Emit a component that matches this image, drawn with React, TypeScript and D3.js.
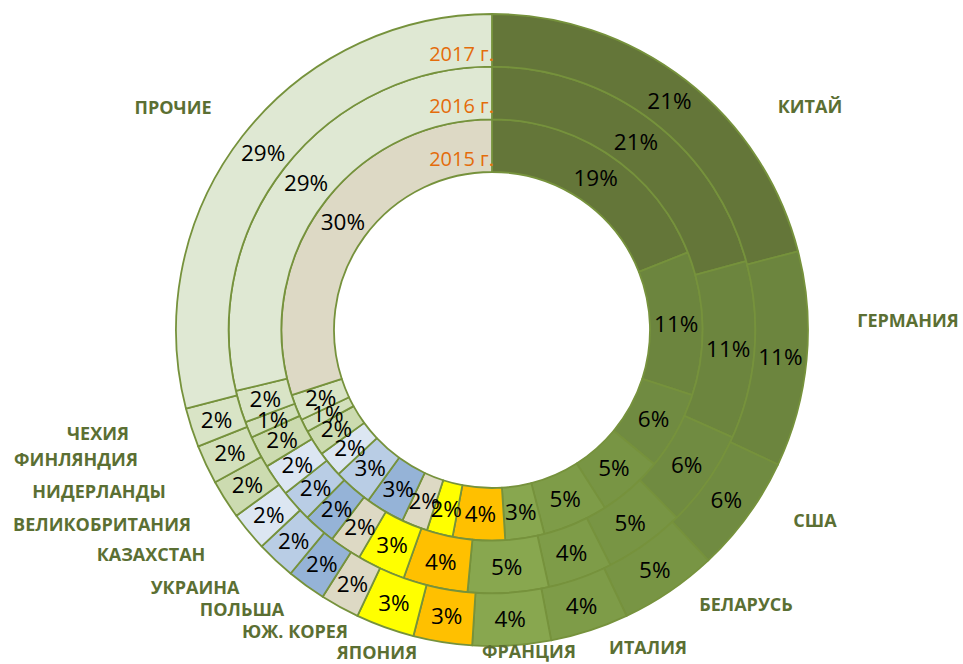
import React from "react";
import * as d3 from "d3";

const categories = [
  "КИТАЙ", "ГЕРМАНИЯ", "США", "БЕЛАРУСЬ", "ИТАЛИЯ", "ФРАНЦИЯ", "ЯПОНИЯ",
  "ЮЖ. КОРЕЯ", "ПОЛЬША", "УКРАИНА", "КАЗАХСТАН", "ВЕЛИКОБРИТАНИЯ",
  "НИДЕРЛАНДЫ", "ФИНЛЯНДИЯ", "ЧЕХИЯ", "ПРОЧИЕ",
];

const years = ["2015 г.", "2016 г.", "2017 г."];

const values2015 = [19, 11, 6, 5, 5, 3, 4, 2, 2, 3, 3, 2, 2, 1, 2, 30];
const values2016 = [21, 11, 6, 5, 4, 5, 4, 3, 2, 2, 2, 2, 2, 1, 2, 29];
const values2017 = [21, 11, 6, 5, 4, 4, 3, 3, 2, 2, 2, 2, 2, 2, 2, 29];

const series = [values2015, values2016, values2017];

// fill colours per category
const colors = [
  "#647639", "#6c853e", "#708b41", "#789544", "#7e9c48", "#88a74f", "#ffc000",
  "#ffff00", "#ddd9c4", "#95b3d7", "#b9cde5", "#dce6f2", "#ccdbb0", "#d3e0bc",
  "#d9e4c6", "#dfe8d3",
];
const othersInnerColor = "#ddd9c5";

// label anchor offsets relative to the centre (layout only)
const labelOffsets: [number, number][] = [
  [318, -223], [416, -9], [323, 191], [254, 275], [156, 318], [37, 322],
  [-115, 323], [-197, 302], [-250, 280], [-297, 258], [-341, 225],
  [-390, 195], [-393, 162], [-416, 130], [-394, 104], [-319, -222],
];

const W = 963;
const H = 664;
const cx = 492;
const cy = 330;
const outerR = 316;
const holeR = 158;

export default function App() {
  const ringW = (outerR - holeR) / series.length;
  const pie = d3
    .pie<number>()
    .sort(null)
    .value((d) => d)
    .startAngle(0)
    .endAngle(2 * Math.PI);

  const rings = series.map((vals, ri) => {
    const inner = holeR + ri * ringW;
    const outer = inner + ringW;
    const arc = d3.arc<d3.PieArcDatum<number>>().innerRadius(inner).outerRadius(outer);
    return { arcs: pie(vals), arc, inner, outer, ri };
  });

  return (
    <div style={{ position: "absolute", left: 0, top: 0 }}>
      <svg width={W} height={H} style={{ display: "block", background: "#fff" }}>
        <g transform={`translate(${cx},${cy})`}>
          {rings.map((ring) =>
            ring.arcs.map((a, i) => (
              <path
                key={`p${ring.ri}-${i}`}
                d={ring.arc(a) || ""}
                fill={ring.ri === 0 && i === categories.length - 1 ? othersInnerColor : colors[i]}
                stroke="#76923c"
                strokeWidth={1.8}
                strokeLinejoin="round"
              />
            ))
          )}
          {rings.map((ring) =>
            ring.arcs.map((a, i) => {
              const [x, y] = ring.arc.centroid(a);
              return (
                <text
                  key={`t${ring.ri}-${i}`}
                  x={x}
                  y={y}
                  dy="0.36em"
                  textAnchor="middle"
                  fontFamily="'Open Sans', sans-serif"
                  fontSize={22.5}
                  fill="#000"
                >
                  {`${Math.round(a.value)}%`}
                </text>
              );
            })
          )}
          {rings.map((ring) => (
            <text
              key={`y${ring.ri}`}
              x={2}
              y={-ring.inner - 6}
              textAnchor="end"
              fontFamily="'Open Sans', sans-serif"
              fontSize={20}
              fill="#e46c0a"
            >
              {years[ring.ri]}
            </text>
          ))}
          {categories.map((c, i) => (
            <text
              key={`c${i}`}
              x={labelOffsets[i][0]}
              y={labelOffsets[i][1]}
              dy="0.36em"
              textAnchor="middle"
              fontFamily="'Open Sans', sans-serif"
              fontWeight="bold"
              fontSize={18}
              fill="#5b6f33"
            >
              {c}
            </text>
          ))}
        </g>
      </svg>
    </div>
  );
}
